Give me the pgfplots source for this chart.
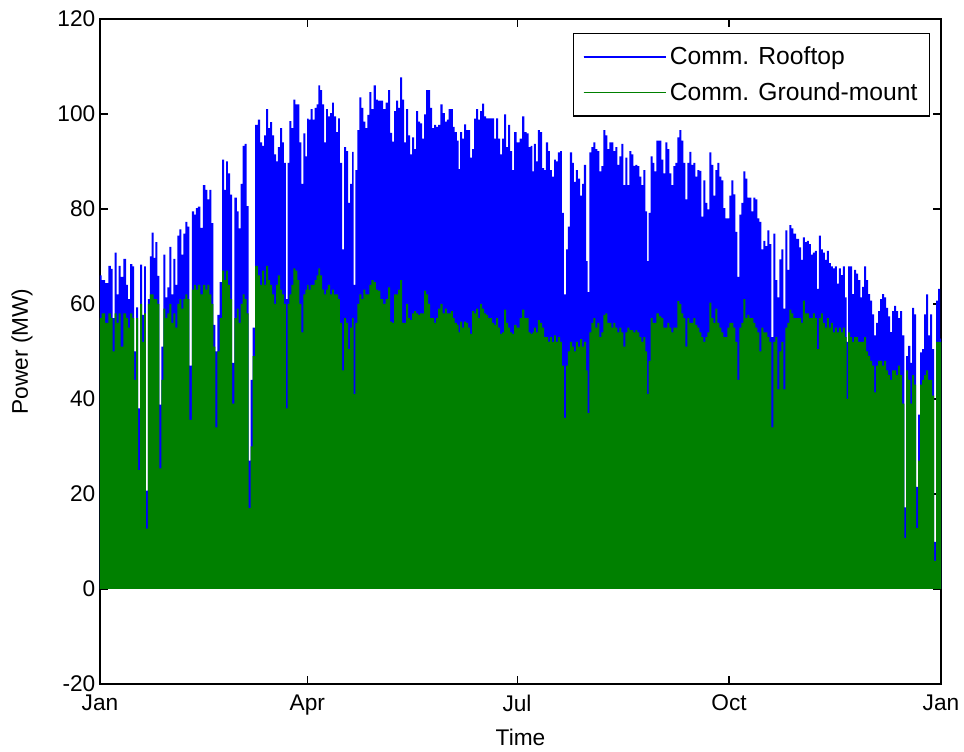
\documentclass[border=0pt]{standalone}
\usepackage{pgfplots}
\usepackage{pgfplotstable}
\usepackage{fontspec}
\setmainfont{Liberation Sans}
\pgfplotsset{compat=1.18}
\definecolor{mblue}{rgb}{0,0,1}
\definecolor{mgreen}{rgb}{0,0.5,0}

\pgfplotstableread{
d b g
0.0 66 57
1.5 65 58
2.9 64.4 56
4.3 68 58
5.1 67.4 57
5.8 57 50
6.8 70.8 58
7.7 62 56
8.4 68 58
9.4 65.7 51
10.9 69.5 58
11.7 64 57
12.6 61 55
13.5 68.4 58
14.5 67.9 57
15.2 50 44
16.1 59.3 57
17.0 38 25
17.8 68.3 60
18.7 57.7 52
19.5 67.9 58
20.3 20.7 12.7
21.3 61 60
22.0 70 62
22.9 75 62
23.6 69.7 61
24.5 73 61
25.3 65.9 60
26.2 38.8 25.4
27.1 51 44
27.9 70.4 59
28.8 61.4 57
29.7 63.5 58
30.5 72 60
31.4 62 56
32.3 69.5 58
33.1 64 55
34.0 74.4 60
34.9 75.7 61
35.7 70.4 59
36.6 74.8 61
37.5 77.3 62
38.3 76.3 61
39.2 47 35.6
40.5 79.5 63
41.2 78.8 64
42.0 80.2 63
43.0 80.5 64
44.1 76 62
45.3 85 64
46.2 84 63
47.0 82 64
47.9 84 62
48.8 77 60
49.6 55.6 51
50.5 50 34
51.4 57.7 50
52.5 64.6 57
53.4 90.4 67
54.3 84 65
55.1 90 67
56.0 87.5 64
56.9 83 61
57.7 47.6 39
59.0 82.4 57
59.8 79.5 59
60.6 75.9 56
61.5 85.3 60
62.4 93.3 62
63.2 93.7 61
64.1 80.6 58
65.0 27 17
65.8 44 30
66.7 55 49
68.0 97.7 68
69.0 98.8 66
69.9 94 64
70.8 93.3 67
71.6 95.5 64
72.5 101 68
73.4 97 65
74.2 98.3 64
75.1 95.5 62
76.0 91.5 60
76.8 90 64
77.7 93 66
78.6 97 63
79.4 94 62
80.3 89.7 60
81.0 61 38
81.8 89.7 60
82.6 98.5 62
83.5 97 64
84.4 103 67.5
85.2 102 67
86.1 102 65
87.0 94 60
87.8 85.3 54
88.7 95.9 62
89.6 91.1 63
90.1 99 64
91.0 98.8 63
91.9 101 64
92.7 98.8 64
93.6 101.3 65
94.5 102 66
95.1 106 67.5
95.9 105 66
96.8 102 63
97.7 94 62
98.5 101 63
99.4 99.5 64
100.3 100.2 62
101.1 102.4 63
102.0 99.5 62
102.9 96.2 62
103.7 99.1 61
104.6 89.7 56
105.5 71.5 46
106.4 93 57
107.2 92.2 56
108.1 81.3 50.5
109.0 85.3 55
109.8 92 57
110.4 64 41
111.3 88.2 56
112.1 96.6 60
113.0 103.5 62
113.9 101.3 61
114.7 98.4 63
115.6 97 62
116.5 99.8 62
117.3 104.6 64
118.2 101 65
119.4 106 64.6
120.1 103 63
121.1 102.8 62.8
122.3 102.8 61
123.5 101 60
124.5 102.4 61
125.5 105 63.5
126.3 96 56.3
127.2 94.2 56
128.1 100.6 62
129.0 102.8 62
129.8 101.3 63
130.7 107.7 65
131.6 103 56
132.4 94 56
133.3 101 60
134.2 95.5 57
135.0 91.5 56.6
135.9 95.1 58
136.8 92.6 58.5
137.6 100.6 58
138.5 98.4 57.7
139.4 98 58
140.2 94.8 58
141.1 99.9 62.8
142.0 105 62
142.8 105 60
143.7 101.3 57
144.6 97 57
145.4 97.7 56
146.3 97.3 57
147.2 97.7 59
148.3 102 60
149.2 100.2 58
150.1 98.4 59
150.9 98.8 58
151.8 101 58
152.7 101 58.5
153.5 97.3 57
154.4 96.2 56
155.3 94.4 55.6
155.9 88.4 54
156.7 96.2 56.3
157.6 94.8 55
158.5 97.8 56.3
159.3 96.6 56
160.2 96.6 55
161.1 90.8 53.7
161.9 92.6 58.5
162.8 99 58
163.7 101 59
164.5 98.8 57
165.4 100.6 60
166.3 102.2 59
167.2 99.5 58
168.0 99.1 57.7
168.9 99.1 57
169.8 99.1 57
170.6 99.1 56
171.5 94.8 55.6
172.4 99.1 57
173.2 94.8 55
174.1 91.5 53.7
175.0 94.8 54
175.8 99.9 58.8
176.7 93 56
177.6 97.7 55
178.4 92.2 54
179.3 88.2 53.7
180.1 96.2 55.6
181.5 94 55
182.7 94.8 57
183.7 99.5 58.8
184.7 96.2 57
185.6 95.9 57
186.5 93 54
187.3 93.3 53.7
187.9 87.9 54
188.8 93.7 55
189.6 90 54
190.5 96.6 56.6
191.4 96.2 56
192.3 88.6 55
193.1 88.2 53
194.0 94 53
194.9 92.2 52
195.7 88.2 53
196.6 86.8 52
197.5 90.4 53.4
198.3 90 52
199.2 91.9 53
200.1 92.2 52
200.9 79.2 47
201.8 62 36
202.7 71.5 47
203.5 76.3 50
204.4 91.9 52
205.3 89.7 51
206.1 85.7 50
207.0 88.2 52
207.9 86.4 51
208.8 82.8 52.6
209.6 85.3 51
210.5 89.3 52
211.4 69 46
211.9 62.5 37
212.8 91.9 54
213.7 93 56
214.5 94 57
215.4 92.6 55
216.3 92.2 56
217.1 87.9 53
218.0 89 54
218.9 96.6 57.7
219.7 95.5 58
220.6 92.6 56
221.5 94 56
222.4 94 55
223.2 92.2 56
224.1 93 55
225.0 89.3 54
225.8 91.1 55
226.7 93.7 54
227.6 85 51
228.4 90.8 54
229.3 85 55
230.2 92.2 54.5
231.0 91.5 54.5
231.9 89.1 54
232.8 89.3 54.5
233.6 89 54
234.5 86.8 53
235.4 85 52
236.2 88.2 53
237.1 79.5 50
237.7 69 41
238.6 79.2 48
239.4 91.1 57
240.3 89.7 56
240.9 87.9 56
242.1 94.4 58
243.1 94.4 57.4
244.1 90.4 57
245.0 87.5 55
245.8 94 55
246.7 92.6 56
247.6 87.5 55
248.4 85 54
249.3 89 55
250.2 89.7 55
251.0 95.1 60.6
251.9 96.6 60
252.8 94.4 58
253.6 89.7 57
254.5 82 51
255.4 89.7 57
256.2 92 56
257.1 89.3 56
258.0 89.7 57
258.8 86.8 55.6
259.7 88.2 55
260.6 88 54
261.4 78.4 53
262.3 86 52
263.2 81.3 53
264.1 79.9 54
264.9 91.9 60.3
265.8 89.3 57
266.7 82.8 56
267.5 88.2 59
268.4 89.7 56
269.3 86.8 55
270.1 86 54
271.0 80.2 53
271.9 78 53
272.7 78 55
273.6 82.8 56
274.5 86 56
275.3 83.1 55
276.2 75.2 52
277.1 65.7 44
277.9 78.8 55
278.8 81.3 56
279.7 87.9 61
280.5 86.4 57
281.4 82.4 57.7
282.3 82.4 57
283.2 79.5 57
284.0 82.4 56
284.9 82 55
285.8 78 54
286.6 77.3 50
287.5 71.5 55
288.4 73.3 54
289.2 72.2 54
290.1 75.5 53
291.0 72.6 52
291.8 53 34
292.7 74.8 52
293.6 65 53
294.4 61.4 42
295.3 69.4 50
296.2 71.5 52
297.0 59 42
297.9 75.5 55
298.8 67.2 56
299.6 76.6 58.8
300.5 75.9 58
301.4 74.8 57
302.9 73.7 57
303.9 71.9 57
304.6 69.3 56
305.5 74 60.7
306.3 73 58
307.2 73.3 58
308.1 72.6 57
308.9 70.4 57
309.8 70.8 58
310.7 71.2 57
311.5 63.2 50.5
312.4 74.4 57
313.3 71.5 58
314.1 70.8 56
315.0 69.3 55
315.9 71.2 57
316.7 68.6 55
317.6 67.9 56
318.5 67.5 54
319.4 67.9 55
320.2 64.3 54
321.1 67.5 55
322.0 66.1 54
322.8 67.9 55
323.7 61.4 53
324.3 52 40
325.1 67.9 54
326.0 67.9 53
326.9 62.1 52
327.7 67.2 53
328.6 66.4 53
329.5 65 52
330.4 61.4 52
331.2 63.6 52
332.1 67.9 53
333.0 65 50
333.8 62.1 49
334.7 60.7 48
335.6 57.8 47
336.4 53.4 41.4
337.3 56 47
338.2 58.5 48
339.0 61 48
339.9 62.1 47
340.8 61.4 48
341.6 59.2 46
342.5 57.4 45
343.4 54.1 44
344.2 58.5 46
345.1 59.6 46
346.0 58.5 45
346.8 57 47
347.7 58.5 45
348.6 53.4 39
349.5 17.2 10.7
350.3 49 46
351.2 51.2 44
352.1 47.6 39
352.9 59.2 45
353.8 57.8 43
354.7 21.5 12.8
355.5 36.7 27
356.4 49.8 43
357.3 50.5 44
358.1 57.8 45
359.0 62 46
359.9 53.4 44
360.7 57.8 44
361.6 50.5 40.7
362.5 9.9 5.9
363.3 60.7 52
364.2 63.2 52
365.0 52.7 52
}\solar

\begin{document}
\begin{tikzpicture}
\begin{axis}[
  at={(0,0)}, anchor=south west,
  scale only axis,
  width=630.75pt, height=498.75pt,
  xmin=0, xmax=365, ymin=-20, ymax=120,
  xtick={0,90,181,273,365},
  xticklabels={Jan,Apr,Jul,Oct,Jan},
  ytick={-20,0,20,40,60,80,100,120},
  yticklabels={-20,0,20,40,60,80,100,120},
  tick align=inside,
  major tick length=6pt,
  tick style={black, line width=0.8pt},
  axis line style={black, line width=0.9pt},
  tick label style={font=\fontsize{17}{20}\selectfont},
  xticklabel style={yshift=-4.5pt},
  label style={font=\fontsize{17}{20}\selectfont},
  xlabel={Time},
  ylabel={Power (MW)},
  xlabel style={at={(axis description cs:0.5,-0.081)}, anchor=center},
  ylabel style={at={(axis description cs:-0.0927,0.5)}, anchor=center},
  legend image code/.code={\draw[#1] (0pt,0pt) -- (58pt,0pt); \path (0pt,0pt) -- (62pt,0pt);},
  legend cell align=left,
  legend style={at={(rel axis cs:0.987,0.979)}, anchor=north east,
    draw=black, line width=0.9pt,
    font=\fontsize{18.5}{21}\selectfont,
    inner xsep=7pt, inner ysep=8pt, row sep=8pt},
]
\addplot[const plot mark mid, fill=mblue, draw=none, forget plot] table[x=d, y=b] {\solar} \closedcycle;
\addplot[const plot mark mid, fill=mgreen, draw=none, forget plot] table[x=d, y=g] {\solar} \closedcycle;
\addlegendimage{draw=mblue, line width=1.2pt}
\addlegendentry{Comm. Rooftop}
\addlegendimage{draw=mgreen, line width=1.2pt}
\addlegendentry{Comm. Ground-mount}
\end{axis}
\path[use as bounding box] (-75pt,-51pt) rectangle (648pt,513pt);
\end{tikzpicture}
\end{document}
